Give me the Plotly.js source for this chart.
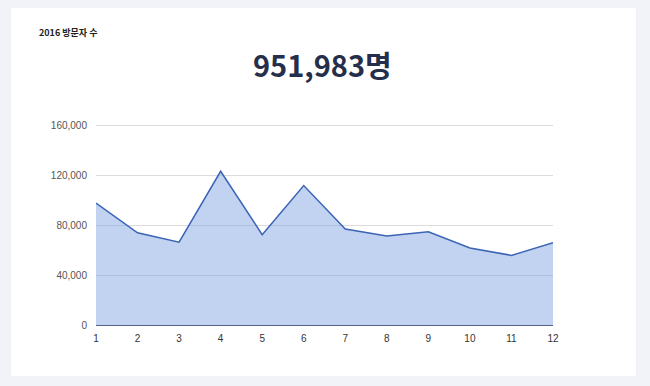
<!DOCTYPE html>
<html>
<head>
<meta charset="utf-8">
<script src="https://cdn.plot.ly/plotly-3.0.1.min.js"></script>
<style>
html,body{margin:0;padding:0;background:#f1f3f8;width:650px;height:386px;overflow:hidden;}
#card{position:absolute;left:11px;top:8px;width:625px;height:368px;background:#fff;box-shadow:0 0 1px rgba(0,0,0,0.06);}
#chart{position:absolute;left:0;top:0;width:650px;height:386px;}
</style>
</head>
<body>
<div id="card"></div>
<div id="chart"></div>
<script>
const months = [1,2,3,4,5,6,7,8,9,10,11,12];
const visitors = [97500, 73800, 66200, 123000, 72300, 111600, 76800, 71200, 74600, 61600, 55700, 65800];
const yTicks = [0, 40000, 80000, 120000, 160000];
const yTickLabels = ["0", "40,000", "80,000", "120,000", "160,000"];
const smallTitle = "2016 방문자 수";
const bigTitle = "951,983명";

const trace = {
  x: months,
  y: visitors,
  type: 'scatter',
  mode: 'lines',
  fill: 'tozeroy',
  fillcolor: 'rgba(120,155,225,0.45)',
  line: {color: '#3b64b6', width: 1.5},
  hoverinfo: 'x+y'
};

// plot area: y=0 at 325px, 160000 at 125px (200px); extend range to 168000 -> 210px
const layout = {
  width: 650, height: 386,
  margin: {l: 96, r: 97, t: 115, b: 61},
  paper_bgcolor: 'rgba(0,0,0,0)',
  plot_bgcolor: 'rgba(0,0,0,0)',
  showlegend: false,
  font: {family: 'Arial, "Liberation Sans", sans-serif', size: 10, color: '#444'},
  xaxis: {
    range: [1, 12],
    tickvals: months,
    ticktext: months.map(String),
    showgrid: false,
    zeroline: false,
    showline: true,
    linecolor: '#55658a',
    linewidth: 1,
    ticks: '',
    ticklabelstandoff: 4,
    tickfont: {size: 10, color: '#333'},
    fixedrange: true
  },
  yaxis: {
    range: [0, 168000],
    tickvals: yTicks,
    ticktext: yTickLabels,
    showgrid: true,
    gridcolor: '#dcdcdc',
    gridwidth: 1,
    zeroline: false,
    showline: false,
    ticks: '',
    ticklabelstandoff: 8,
    tickfont: {size: 10, color: '#555'},
    fixedrange: true
  },
  annotations: [
    {
      text: '<b>' + smallTitle + '</b>',
      xref: 'paper', yref: 'paper',
      x: (37 - 96) / 457, y: 1 + (115 - 32) / 210,
      xanchor: 'left', yanchor: 'middle',
      showarrow: false,
      font: {family: '"Noto Sans CJK KR", "Noto Sans", sans-serif', size: 9, color: '#222'}
    },
    {
      text: '<b>' + bigTitle + '</b>',
      xref: 'paper', yref: 'paper',
      x: (322 - 96) / 457, y: 1 + (115 - 64) / 210,
      xanchor: 'center', yanchor: 'middle',
      showarrow: false,
      font: {family: '"Noto Sans CJK KR", "Noto Sans", sans-serif', size: 29, color: '#252f4b'}
    }
  ]
};

Plotly.newPlot('chart', [trace], layout, {displayModeBar: false, staticPlot: true});
</script>
</body>
</html>
